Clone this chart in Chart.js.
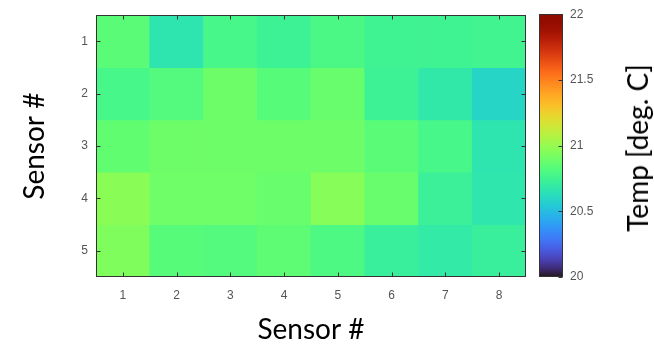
<!DOCTYPE html>
<html>
<head>
<meta charset="utf-8">
<script src="https://cdn.jsdelivr.net/npm/chart.js@4"></script>
<style>
  body { margin: 0; background: #fff; }
  #wrap { position: relative; width: 654px; height: 347px; }
  #heat { position: absolute; left: 0; top: 0; }
  #cbar { position: absolute; left: 530px; top: 0; }
  #cbTitle {
    position: absolute; left: 637px; top: 148px;
    transform: translate(-50%, -50%) rotate(-90deg);
    font-family: Lato, sans-serif; font-size: 28px; color: #000;
    white-space: nowrap;
  }
</style>
</head>
<body>
<div id="wrap">
  <canvas id="heat" width="540" height="347"></canvas>
  <canvas id="cbar" width="124" height="347"></canvas>
  <div id="cbTitle">Temp [deg. C]</div>
</div>
<script>
// Sensor labels
const colLabels = ['1', '2', '3', '4', '5', '6', '7', '8'];
const rowLabels = [1, 2, 3, 4, 5];

// Temperatures per row (deg. C)
const row1 = [20.84, 20.66, 20.78, 20.74, 20.79, 20.75, 20.75, 20.76];
const row2 = [20.78, 20.82, 20.89, 20.83, 20.88, 20.74, 20.68, 20.59];
const row3 = [20.86, 20.89, 20.89, 20.89, 20.89, 20.84, 20.78, 20.66];
const row4 = [20.97, 20.90, 20.90, 20.88, 20.96, 20.88, 20.73, 20.67];
const row5 = [20.94, 20.83, 20.82, 20.85, 20.80, 20.72, 20.69, 20.72];
const rows = [row1, row2, row3, row4, row5];

// Colour bar range and ticks
const cbTicks = [20, 20.5, 21, 21.5, 22];
const cbMin = 20, cbMax = 22;

// Turbo colormap (polynomial approximation)
function turbo(t) {
    t = Math.min(1, Math.max(0, t));
    const r = 0.13572138 + t * (4.61539260 + t * (-42.66032258 + t * (132.13108234 + t * (-152.94239396 + t * 59.28637943))));
    const g = 0.09140261 + t * (2.19418839 + t * (4.84296658 + t * (-14.18503333 + t * (4.27729857 + t * 2.82956604))));
    const b = 0.10667330 + t * (12.64194608 + t * (-60.58204836 + t * (110.36276771 + t * (-89.90310912 + t * 27.34824973))));
    const c = v => Math.round(255 * Math.min(1, Math.max(0, v)));
    return `rgb(${c(r)}, ${c(g)}, ${c(b)})`;
}
const tempColor = v => turbo((v - cbMin) / (cbMax - cbMin));

const tickFont = { family: 'Liberation Sans', size: 12 };
const titleFont = { family: 'Lato', size: 28 };
const tickColor = '#555';

// Frame around the plot area with small inward ticks
const framePlugin = {
    id: 'frame',
    afterDatasetsDraw(chart, args, opts) {
        const { ctx, chartArea: a } = chart;
        ctx.save();
        ctx.strokeStyle = opts.color;
        ctx.lineWidth = 1;
        const L = Math.round(a.left) + 0.5, R = Math.round(a.right) - 0.5;
        const T = Math.round(a.top) + 0.5, B = Math.round(a.bottom) - 0.5;
        ctx.strokeRect(L, T, R - L, B - T);
        ctx.beginPath();
        if (opts.xTicks) {
            const x = chart.scales.x;
            x.ticks.forEach((t, i) => {
                const px = Math.round(x.getPixelForTick(i)) + 0.5;
                ctx.moveTo(px, T); ctx.lineTo(px, T + 4);
                ctx.moveTo(px, B); ctx.lineTo(px, B - 4);
            });
        }
        const y = chart.scales.y;
        y.ticks.forEach((t, i) => {
            const py = Math.round(y.getPixelForValue(t.value)) + 0.5;
            if (opts.leftTicks) { ctx.moveTo(L, py); ctx.lineTo(L + 4, py); }
            ctx.moveTo(R, py); ctx.lineTo(R - 4, py);
        });
        ctx.stroke();
        ctx.restore();
    }
};

// Heat map: one floating-bar dataset per sensor row
const heatDatasets = rows.map((vals, i) => ({
    data: vals.map(() => [rowLabels[i] - 0.5, rowLabels[i] + 0.5]),
    backgroundColor: vals.map(tempColor),
    borderWidth: 0,
    barPercentage: 1,
    categoryPercentage: 1,
    grouped: false
}));

new Chart(document.getElementById('heat'), {
    type: 'bar',
    data: { labels: colLabels, datasets: heatDatasets },
    options: {
        responsive: false,
        animation: false,
        layout: { padding: { left: 0, right: 14, top: 8, bottom: 0 } },
        plugins: {
            legend: { display: false },
            tooltip: { enabled: false },
            frame: { color: '#333', xTicks: true, leftTicks: true }
        },
        scales: {
            x: {
                type: 'category',
                grid: { display: false, drawTicks: false },
                border: { display: false },
                ticks: { padding: 11, color: tickColor, font: tickFont, maxRotation: 0 },
                title: { display: true, text: 'Sensor #', color: '#000', font: titleFont, padding: { top: 3, bottom: 0 } },
                afterFit: s => { s.height = 70; }
            },
            y: {
                type: 'linear',
                reverse: true,
                min: 0.5,
                max: 5.5,
                afterBuildTicks: s => { s.ticks = rowLabels.map(v => ({ value: v })); },
                grid: { display: false, drawTicks: false },
                border: { display: false },
                ticks: { padding: 8, color: tickColor, font: tickFont },
                title: { display: true, text: 'Sensor #', color: '#000', font: titleFont, padding: { top: 18, bottom: 0 } },
                afterFit: s => { s.width = 96; }
            }
        }
    },
    plugins: [framePlugin]
});

// Colour bar: one floating bar filled with the turbo gradient
new Chart(document.getElementById('cbar'), {
    type: 'bar',
    data: {
        labels: [''],
        datasets: [{
            data: [[cbMin, cbMax]],
            backgroundColor: ctx => {
                const { chart } = ctx;
                if (!chart.chartArea) return '#fff';
                const y = chart.scales.y;
                const g = chart.ctx.createLinearGradient(0, y.getPixelForValue(cbMin), 0, y.getPixelForValue(cbMax));
                for (let i = 0; i <= 32; i++) g.addColorStop(i / 32, turbo(i / 32));
                return g;
            },
            borderWidth: 0,
            barPercentage: 1,
            categoryPercentage: 1
        }]
    },
    options: {
        responsive: false,
        animation: false,
        layout: { padding: { left: 9, right: 0, top: 8, bottom: 70 } },
        plugins: {
            legend: { display: false },
            tooltip: { enabled: false },
            frame: { color: '#333', xTicks: false, leftTicks: false }
        },
        scales: {
            x: { display: false },
            y: {
                type: 'linear',
                position: 'right',
                min: cbMin,
                max: cbMax,
                afterBuildTicks: s => { s.ticks = cbTicks.map(v => ({ value: v })); },
                grid: { display: false, drawTicks: false },
                border: { display: false },
                ticks: { padding: 7, color: tickColor, font: tickFont, callback: v => String(v) },
                afterFit: s => { s.width = 91; }
            }
        }
    },
    plugins: [framePlugin]
});
</script>
</body>
</html>
